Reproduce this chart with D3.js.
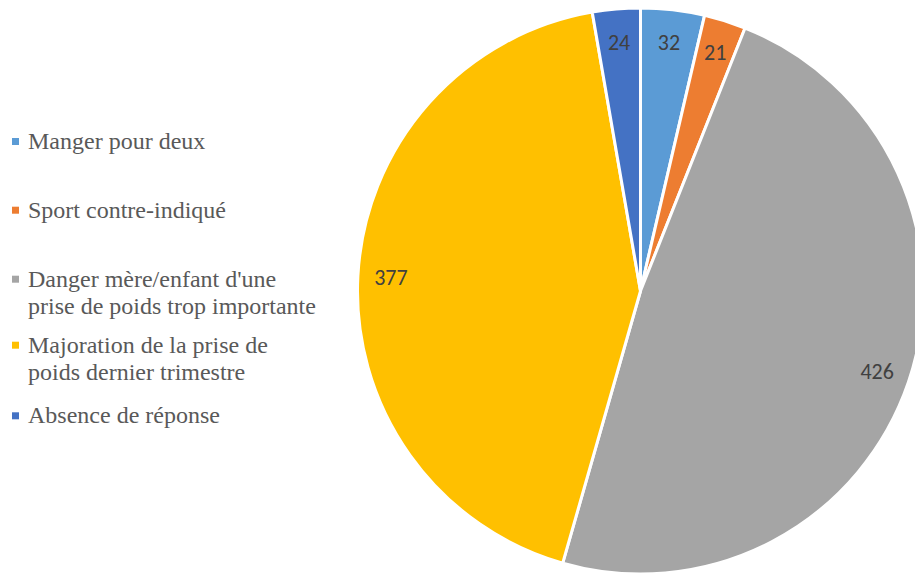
<!DOCTYPE html>
<html><head><meta charset="utf-8">
<script src="https://cdn.jsdelivr.net/npm/d3@7"></script>
<style>body{margin:0;background:#fff;}svg{display:block;}</style>
</head><body>
<svg id="c" width="915" height="573"></svg>
<script>
const categories = ["Manger pour deux","Sport contre-indiqué","Danger mère/enfant d'une prise de poids trop importante","Majoration de la prise de poids dernier trimestre","Absence de réponse"];
const legendLines = [["Manger pour deux"],["Sport contre-indiqué"],["Danger mère/enfant d'une","prise de poids trop importante"],["Majoration de la prise de","poids dernier trimestre"],["Absence de réponse"]];
const values = [32,21,426,377,24];
const colors = ["#5B9BD5","#ED7D31","#A5A5A5","#FFC000","#4472C4"];

const svg = d3.select("#c");
const cx = 640.5, cy = 291, R = 283;
const data = categories.map((c,i)=>({cat:c,value:values[i],color:colors[i]}));
const pie = d3.pie().value(d=>d.value).sort(null);
const arcs = pie(data);
const arc = d3.arc().innerRadius(0).outerRadius(R);
const labelArc = d3.arc().innerRadius(250).outerRadius(250);
const g = svg.append("g").attr("transform",`translate(${cx},${cy})`);
g.selectAll("path").data(arcs).join("path")
  .attr("d",arc).attr("fill",d=>d.data.color)
  .attr("stroke","#fff").attr("stroke-width",3).attr("stroke-linejoin","round");
g.selectAll("text").data(arcs).join("text")
  .attr("transform",d=>`translate(${labelArc.centroid(d)})`)
  .attr("text-anchor","middle").attr("dy","0.35em")
  .attr("font-family","Carlito, 'Open Sans', sans-serif").attr("font-size",22)
  .attr("fill","#404040").text(d=>d.data.value);

const baselines = [149,217.7,286.7,352.7,423.3];
const lg = svg.append("g");
legendLines.forEach((lines,i)=>{
  lg.append("rect").attr("x",12).attr("y",baselines[i]-11).attr("width",7).attr("height",7).attr("fill",colors[i]);
  lines.forEach((t,j)=>{
    lg.append("text").attr("x",28).attr("y",baselines[i]+j*27)
      .attr("font-family","'Liberation Serif','Times New Roman',serif").attr("font-size",24)
      .attr("fill","#595959").text(t);
  });
});
</script>
</body></html>
